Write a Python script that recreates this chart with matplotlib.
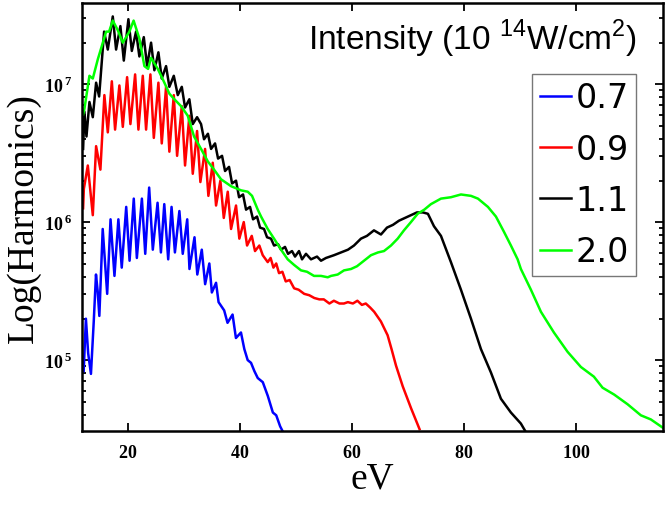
import numpy as np
import matplotlib
matplotlib.use("Agg")
import matplotlib.pyplot as plt
from matplotlib.ticker import FixedLocator, LogLocator, FuncFormatter, NullFormatter

plt.rcParams["mathtext.fontset"] = "custom"
plt.rcParams["mathtext.rm"] = "Liberation Serif"
plt.rcParams["mathtext.bf"] = "Liberation Serif:bold"
plt.rcParams["mathtext.sf"] = "Liberation Sans"

# photon energy (eV) and log10 of the harmonic yield
ev_07 = [12.1, 12.5, 12.9, 13.4, 13.9, 14.3, 14.6, 14.9, 15.5, 16.3, 16.9, 17.6, 18.3, 18.9,
         19.7, 20.3, 21.05, 21.6, 22.5, 23.1, 23.8, 24.45, 25.3, 25.9, 26.5, 27.2, 27.8, 28.4,
         29.2, 29.8, 30.6, 31.0, 31.9, 32.4, 33.2, 33.8, 34.55, 35.0, 35.75, 36.2, 37.2, 37.8,
         38.7, 39.3, 40.2, 40.8, 41.4, 42.0, 42.6, 43.2, 44.1, 45.0, 45.9, 46.5, 47.2, 47.7]
log_07 = [4.92, 5.30, 5.05, 4.90, 5.28, 5.62, 5.50, 5.32, 5.95, 5.48, 6.02, 5.61, 6.02, 5.67,
          6.11, 5.72, 6.17, 5.74, 6.17, 5.77, 6.25, 5.80, 6.14, 5.78, 6.13, 5.73, 6.11, 5.78,
          6.08, 5.77, 6.02, 5.66, 5.89, 5.62, 5.80, 5.55, 5.70, 5.49, 5.56, 5.42, 5.36, 5.27,
          5.33, 5.16, 5.20, 5.08, 5.00, 4.98, 4.92, 4.87, 4.84, 4.74, 4.62, 4.60, 4.52, 4.48]

ev_09 = [12.0, 12.13, 12.84, 13.73, 14.32, 15.09, 15.80, 16.41, 17.13, 17.71, 18.48, 19.09,
         19.86, 20.45, 21.29, 21.88, 22.66, 23.25, 24.02, 24.63, 25.45, 26.05, 26.82, 27.41,
         28.2, 28.79, 29.63, 30.21, 30.98, 31.59, 32.36, 32.95, 33.79, 34.38, 35.16, 35.75,
         36.52, 37.13, 37.84, 38.43, 39.32, 39.91, 40.7, 41.29, 42.13, 42.71, 43.48, 44.09,
         44.98, 45.5, 46.0, 46.5, 47.0, 47.6, 48.2, 48.9, 49.7, 50.5, 51.5, 52.4, 53.3, 54.2,
         55.0, 56.0, 56.8, 57.8, 58.6, 59.3, 60.2, 61.0, 61.8, 62.5, 63.3, 64.0, 65.2, 66.4,
         67.1, 67.9, 69.1, 70.6, 72.1]
log_09 = [6.10, 6.24, 6.41, 6.05, 6.55, 6.38, 6.92, 6.65, 7.02, 6.67, 6.99, 6.69,
          7.05, 6.71, 7.07, 6.67, 7.06, 6.67, 7.07, 6.61, 7.01, 6.57, 6.98, 6.51,
          6.92, 6.48, 6.84, 6.41, 6.77, 6.35, 6.66, 6.29, 6.53, 6.19, 6.43, 6.12,
          6.30, 6.03, 6.22, 5.95, 6.12, 5.88, 6.00, 5.83, 5.90, 5.79, 5.83, 5.76,
          5.71, 5.74, 5.67, 5.70, 5.63, 5.64, 5.57, 5.58, 5.52, 5.51, 5.48, 5.47, 5.45, 5.44,
          5.44, 5.41, 5.43, 5.41, 5.41, 5.42, 5.41, 5.43, 5.40, 5.41, 5.38, 5.35, 5.28, 5.18,
          5.08, 4.96, 4.81, 4.65, 4.50]

ev_11 = [12.0, 12.23, 12.6, 13.13, 13.73, 14.32, 14.86, 15.75, 16.41, 17.3, 17.89, 18.66,
         19.27, 20.09, 20.7, 21.46, 22.05, 22.84, 23.43, 24.14, 24.73, 25.45, 26.05, 26.82,
         27.41, 28.2, 28.91, 29.63, 30.21, 30.98, 31.59, 32.36, 33.07, 33.6, 34.3, 34.86,
         35.57, 36.11, 36.82, 37.36, 38.07, 38.61, 39.32, 39.86, 40.57, 41.11, 41.82, 42.36,
         43.07, 43.61, 44.32, 44.86, 45.57, 46.11, 46.82, 47.36, 48.07, 48.61, 49.32, 49.86,
         50.57, 51.11, 51.82, 52.71, 53.79, 54.5, 55.39, 56.82, 58.07, 59.32, 60.39, 61.64,
         62.71, 63.96, 65.21, 66.29, 67.36, 68.43, 69.5, 70.57, 71.64, 72.71, 73.6, 74.68,
         75.93, 77.71, 79.5, 81.29, 83.07, 84.86, 86.64, 88.43, 90.21, 90.93]
log_11 = [6.53, 6.80, 6.62, 6.87, 6.76, 7.01, 6.91, 7.38, 7.25, 7.49, 7.25, 7.42,
          7.17, 7.47, 7.24, 7.38, 7.20, 7.34, 7.13, 7.30, 7.10, 7.23, 7.04, 7.13,
          6.98, 7.06, 6.92, 6.98, 6.83, 6.89, 6.71, 6.76, 6.71, 6.60, 6.64, 6.53,
          6.57, 6.46, 6.48, 6.37, 6.40, 6.28, 6.30, 6.18, 6.20, 6.09, 6.11, 6.02,
          6.04, 5.96, 5.95, 5.89, 5.88, 5.83, 5.84, 5.80, 5.82, 5.77, 5.79, 5.75,
          5.79, 5.73, 5.77, 5.73, 5.75, 5.72, 5.74, 5.76, 5.78, 5.80, 5.83, 5.88,
          5.90, 5.94, 5.91, 5.96, 5.98, 6.01, 6.03, 6.05, 6.07, 6.07, 6.06, 5.97,
          5.90, 5.71, 5.51, 5.30, 5.08, 4.91, 4.72, 4.62, 4.54, 4.49]

ev_20 = [12.0, 12.23, 13.13, 13.73, 14.63, 15.52, 16.11, 16.64, 17.3, 18.2, 19.09, 20.27,
         21.02, 22.05, 22.95, 23.61, 24.14, 25.34, 26.52, 27.41, 28.3, 29.5, 30.7, 31.82,
         33.07, 34.27, 35.39, 36.64, 38.43, 40.21, 41.41, 42.18, 43.2, 43.79, 44.98, 46.11,
         47.36, 48.55, 49.68, 50.93, 52.0, 53.25, 54.5, 55.7, 56.29, 57.48, 58.61, 59.86,
         60.93, 62.18, 63.43, 64.68, 65.75, 67.0, 68.2, 69.32, 70.57, 71.77, 72.95, 74.14,
         75.93, 77.71, 79.5, 81.29, 82.54, 84.32, 85.75, 87.18, 88.43, 89.63, 90.21, 92.0,
         93.79, 96.11, 98.55, 100.93, 103.25, 104.8, 106.88, 109.27, 111.64, 113.43, 115.57]
log_20 = [6.78, 6.82, 7.06, 7.04, 7.18, 7.30, 7.38, 7.38, 7.46, 7.39, 7.30, 7.38,
          7.46, 7.33, 7.13, 7.11, 7.19, 7.11, 7.01, 6.93, 6.89, 6.84, 6.77, 6.62,
          6.53, 6.44, 6.38, 6.31, 6.26, 6.23, 6.22, 6.19, 6.09, 6.04, 5.95, 5.88,
          5.80, 5.73, 5.69, 5.65, 5.64, 5.61, 5.61, 5.60, 5.61, 5.62, 5.65, 5.66,
          5.68, 5.72, 5.76, 5.78, 5.79, 5.83, 5.88, 5.94, 6.00, 6.06, 6.09, 6.13,
          6.17, 6.18, 6.20, 6.19, 6.17, 6.11, 6.04, 5.93, 5.83, 5.73, 5.66, 5.51,
          5.35, 5.20, 5.06, 4.95, 4.88, 4.80, 4.75, 4.68, 4.60, 4.57, 4.51]

labels = ["0.7", "0.9", "1.1", "2.0"]
colors = ["#0000ff", "#ff0000", "#000000", "#00ff00"]
series = [(ev_07, log_07), (ev_09, log_09), (ev_11, log_11), (ev_20, log_20)]

fig = plt.figure(figsize=(6.65, 5.06), dpi=100)
ax = fig.add_axes([0.1233, 0.147, 0.8737, 0.845])

for (ev, lg), label, color in zip(series, labels, colors):
    ax.plot(ev, 10 ** np.array(lg), color=color, linewidth=1.8, label=label)

ax.set_yscale("log")
ax.set_xlim(11.8, 115.6)
ax.set_ylim(10 ** 4.489, 10 ** 7.587)

ax.xaxis.set_major_locator(FixedLocator([20, 40, 60, 80, 100]))
ax.yaxis.set_major_locator(LogLocator(base=10, numticks=10))
ax.yaxis.set_minor_locator(LogLocator(base=10, subs=np.arange(2, 10), numticks=10))
ax.yaxis.set_minor_formatter(NullFormatter())
ax.yaxis.set_major_formatter(
    FuncFormatter(lambda v, p: r"$\mathbf{10}^{\,\mathbf{%d}}$" % round(np.log10(v)))
)
ax.xaxis.set_major_formatter(FuncFormatter(lambda v, p: r"$\mathbf{%d}$" % v))

ax.tick_params(which="both", direction="in", top=True, right=True, width=1.3)
ax.tick_params(which="major", length=6, labelsize=13)
ax.tick_params(which="minor", length=3)
ax.tick_params(axis="x", pad=9)
ax.tick_params(axis="y", pad=7)
for s in ax.spines.values():
    s.set_linewidth(1.8)

ax.set_xlabel("eV", family="Liberation Serif", fontsize=27, labelpad=0)
ax.set_ylabel("Log(Harmonics)", family="Liberation Serif", fontsize=27, labelpad=2)

ax.text(0.955, 0.892, r"Intensity (10 $^{\mathsf{14}}$W/cm$^{\mathsf{2}}$)",
        transform=ax.transAxes, ha="right", va="baseline",
        family="Liberation Sans", fontsize=24)

leg = ax.legend(loc="upper right", bbox_to_anchor=(0.9535, 0.834), borderaxespad=0,
                prop={"family": "DejaVu Sans", "size": 24}, handlelength=0.95,
                handletextpad=0.12, labelspacing=0.55, borderpad=0.22,
                fancybox=False, framealpha=1)
leg.get_frame().set_edgecolor("#777777")
leg.get_frame().set_linewidth(1.0)

fig.savefig("out.png", dpi=100)
